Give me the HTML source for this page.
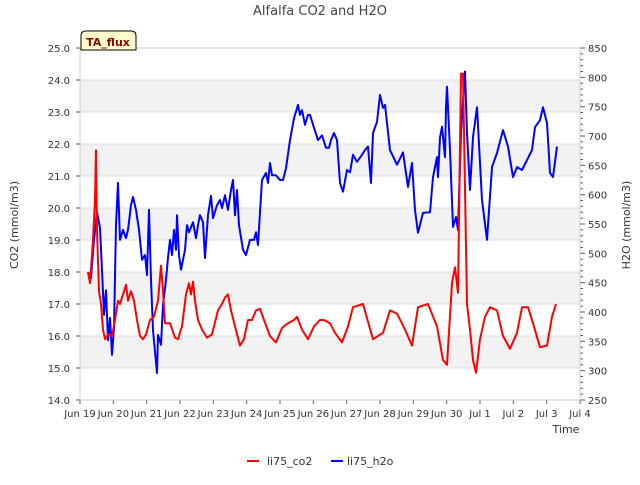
<!DOCTYPE html>
<html><head><meta charset="utf-8"><style>
body{margin:0;background:#fff;}
svg text{font-family:"DejaVu Sans","Liberation Sans",sans-serif;}
</style></head><body>
<svg id="chart" width="640" height="480" xmlns="http://www.w3.org/2000/svg">
<text x="320" y="15" text-anchor="middle" font-size="13" fill="#444">Alfalfa CO2 and H2O</text>
<g id="bands"></g><g id="axes"></g><g id="series"></g>
<g>
<path d="M81,50 L81,36 Q81,31 86,31 L131,31 Q136,31 136,36 L136,50 Z" fill="#ffffcc" stroke="#000" stroke-width="1"/>
<text x="108" y="46" text-anchor="middle" font-size="11" font-weight="bold" fill="#8b0000">TA_flux</text>
</g>
<text transform="translate(18,225) rotate(-90)" text-anchor="middle" font-size="11" fill="#333">CO2 (mmol/m3)</text>
<text transform="translate(630,225) rotate(-90)" text-anchor="middle" font-size="11" fill="#333">H2O (mmol/m3)</text>
<text x="566" y="433" text-anchor="middle" font-size="11" fill="#333">Time</text>
<g>
<line x1="247" y1="461" x2="259" y2="461" stroke="#ff0000" stroke-width="2"/>
<text x="267" y="465" font-size="11" fill="#333">li75_co2</text>
<line x1="331" y1="461" x2="343" y2="461" stroke="#0000ff" stroke-width="2"/>
<text x="347" y="465" font-size="11" fill="#333">li75_h2o</text>
</g>
</svg>
<script>
const xTickLabels=["Jun 19","Jun 20","Jun 21","Jun 22","Jun 23","Jun 24","Jun 25","Jun 26","Jun 27","Jun 28","Jun 29","Jun 30","Jul 1","Jul 2","Jul 3","Jul 4"];
const leftTicks=[14,15,16,17,18,19,20,21,22,23,24,25];
const rightTicks=[250,300,350,400,450,500,550,600,650,700,750,800,850];
const co2Days=[0.24,0.30,0.39,0.45,0.48,0.51,0.57,0.63,0.69,0.75,0.84,0.96,1.05,1.14,1.20,1.29,1.38,1.44,1.53,1.62,1.71,1.80,1.89,1.98,2.10,2.22,2.34,2.43,2.49,2.55,2.70,2.85,2.94,3.06,3.18,3.27,3.33,3.39,3.45,3.54,3.66,3.81,3.96,4.14,4.26,4.35,4.44,4.53,4.65,4.80,4.92,5.04,5.16,5.28,5.40,5.52,5.70,5.88,6.06,6.24,6.42,6.51,6.66,6.84,7.02,7.20,7.32,7.50,7.65,7.86,8.04,8.19,8.49,8.79,9.09,9.30,9.51,9.75,9.96,10.14,10.44,10.71,10.89,11.01,11.16,11.25,11.34,11.43,11.49,11.61,11.70,11.79,11.88,12.00,12.15,12.30,12.51,12.69,12.90,13.11,13.26,13.44,13.59,13.80,14.01,14.16,14.28];
const co2Values=[18.0,17.65,19.0,20.25,21.8,19.3,17.4,17.0,16.2,15.9,16.05,16.0,16.5,17.1,17.0,17.3,17.6,17.1,17.4,17.1,16.5,16.0,15.9,16.05,16.5,16.6,17.1,18.2,17.4,16.4,16.4,15.95,15.9,16.3,17.3,17.65,17.3,17.7,17.1,16.5,16.2,15.95,16.05,16.8,17.0,17.2,17.3,16.8,16.3,15.7,15.9,16.5,16.5,16.8,16.85,16.5,16.0,15.8,16.25,16.4,16.5,16.6,16.2,15.9,16.3,16.5,16.5,16.4,16.1,15.8,16.3,16.9,17.0,15.9,16.1,16.8,16.7,16.2,15.7,16.9,17.0,16.3,15.25,15.1,17.65,18.15,17.35,24.2,24.2,17.0,16.2,15.25,14.85,15.9,16.6,16.9,16.8,16.0,15.6,16.1,16.9,16.9,16.4,15.65,15.7,16.6,17.0];
const h2oDays=[0.24,0.33,0.42,0.51,0.60,0.66,0.72,0.78,0.84,0.90,0.96,1.02,1.08,1.14,1.20,1.29,1.38,1.44,1.53,1.59,1.68,1.77,1.86,1.95,2.01,2.07,2.13,2.19,2.25,2.31,2.34,2.43,2.49,2.58,2.64,2.70,2.76,2.82,2.88,2.91,2.97,3.03,3.09,3.15,3.21,3.27,3.39,3.48,3.54,3.60,3.69,3.75,3.84,3.93,3.99,4.11,4.20,4.26,4.35,4.44,4.53,4.59,4.65,4.71,4.77,4.89,4.98,5.10,5.22,5.28,5.34,5.46,5.58,5.64,5.70,5.76,5.88,6.00,6.09,6.18,6.30,6.42,6.54,6.60,6.66,6.75,6.84,6.90,7.02,7.14,7.26,7.38,7.47,7.53,7.62,7.71,7.80,7.89,8.01,8.10,8.19,8.31,8.46,8.55,8.64,8.73,8.79,8.91,9.00,9.09,9.15,9.30,9.51,9.69,9.84,9.96,10.05,10.14,10.29,10.50,10.59,10.71,10.74,10.80,10.86,10.95,10.98,11.01,11.10,11.19,11.28,11.34,11.43,11.55,11.61,11.70,11.79,11.91,12.06,12.21,12.36,12.51,12.69,12.84,12.99,13.11,13.26,13.41,13.56,13.65,13.80,13.89,14.01,14.10,14.19,14.31];
const h2oValues=[468,458,523,570,543,472,395,437,352,390,327,373,548,620,523,540,526,540,582,596,574,540,489,497,463,574,455,369,332,296,361,344,412,455,492,523,497,540,506,565,497,472,489,506,548,536,553,526,548,565,553,492,565,598,560,582,591,577,599,574,608,625,565,608,548,506,497,523,523,536,514,625,637,620,654,633,633,625,625,645,693,730,753,736,744,719,736,736,714,693,701,680,680,693,705,693,620,605,642,638,668,656,668,676,682,620,705,724,770,748,753,676,651,672,613,654,574,535,569,570,630,664,630,697,716,664,749,784,676,545,562,540,705,810,705,608,698,749,591,523,647,671,710,682,630,647,642,659,676,715,727,749,722,637,630,682];

const L=80,R=580,T=48,B=400,NS="http://www.w3.org/2000/svg";
const xs=d=>L+(R-L)*d/15;
const yL=v=>B-(v-14)*(B-T)/11;
const yR=v=>B-(v-250)*(B-T)/600;
function mk(tag,attrs,parent){const e=document.createElementNS(NS,tag);for(const k in attrs)e.setAttribute(k,attrs[k]);parent.appendChild(e);return e;}
const bands=document.getElementById('bands'),axes=document.getElementById('axes'),series=document.getElementById('series');
for(let v=15;v<25;v+=2){const r=mk('rect',{x:L,y:yL(v+1),width:R-L,height:yL(v)-yL(v+1),fill:'#f2f2f2'},bands);

}
leftTicks.forEach(v=>{const g=mk('line',{x1:L,x2:R,y1:yL(v),y2:yL(v),stroke:'#dddddd','stroke-width':1},bands);


mk('line',{x1:L-4,x2:L,y1:yL(v),y2:yL(v),stroke:'#555'},axes);
const t=mk('text',{x:L-10,y:yL(v)+4,'text-anchor':'end','font-size':10,fill:'#333'},axes);t.textContent=v.toFixed(1);

});
for(let v=250;v<=850;v+=10){mk('line',{x1:R,x2:R+(v%50===0?5:3),y1:yR(v),y2:yR(v),stroke:'#555'},axes);}
rightTicks.forEach(v=>{const t=mk('text',{x:R+8,y:yR(v)+4,'font-size':10,fill:'#333'},axes);t.textContent=v;

});
xTickLabels.forEach((s,i)=>{mk('line',{x1:xs(i),x2:xs(i),y1:B,y2:B+4,stroke:'#555'},axes);
const t=mk('text',{x:xs(i),y:B+17,'text-anchor':'middle','font-size':10,fill:'#333'},axes);t.textContent=s;

});
const fr=mk('rect',{x:L,y:T,width:R-L,height:B-T,fill:'none',stroke:'#cccccc'},axes);


const p1=mk('polyline',{points:h2oDays.map((d,i)=>xs(d)+','+yR(h2oValues[i])).join(' '),fill:'none',stroke:'#0000ff','stroke-width':2,'stroke-linejoin':'round'},series);


const p2=mk('polyline',{points:co2Days.map((d,i)=>xs(d)+','+yL(co2Values[i])).join(' '),fill:'none',stroke:'#ff0000','stroke-width':2,'stroke-linejoin':'round'},series);


</script>
</body></html>
